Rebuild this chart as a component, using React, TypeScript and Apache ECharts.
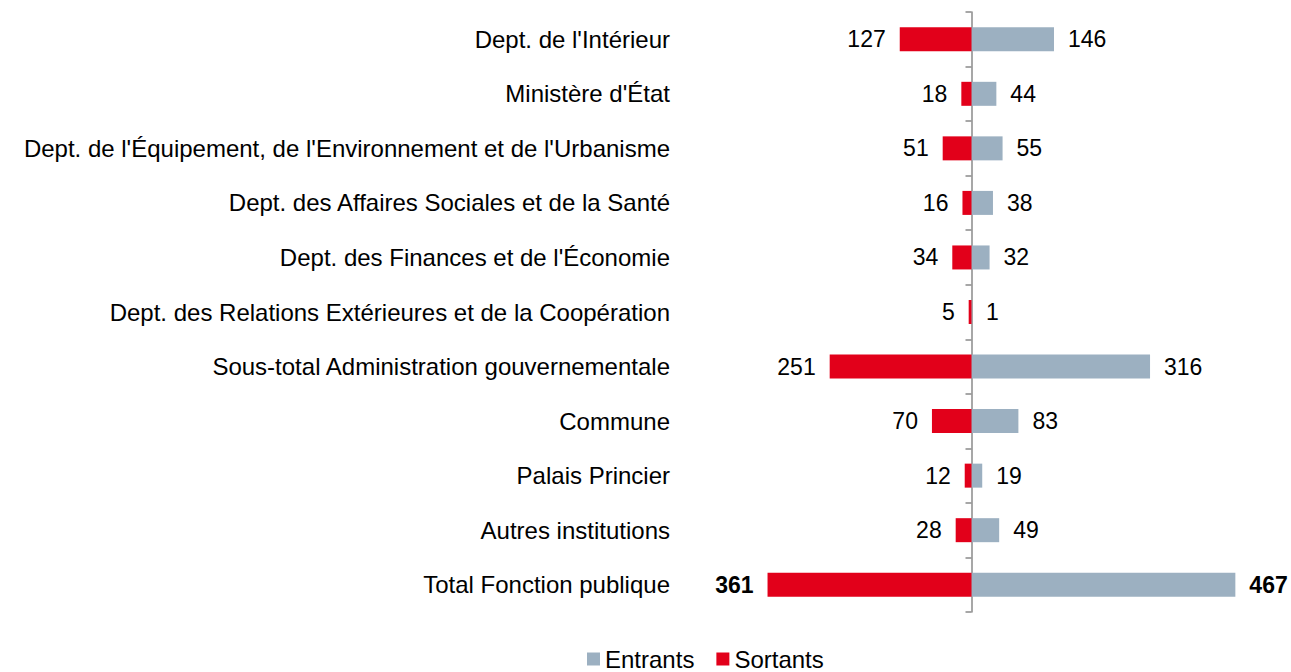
import React, { useEffect, useRef } from "react";
import * as echarts from "echarts";

const categories = [
  "Dept. de l'Intérieur",
  "Ministère d'État",
  "Dept. de l'Équipement, de l'Environnement et de l'Urbanisme",
  "Dept. des Affaires Sociales et de la Santé",
  "Dept. des Finances et de l'Économie",
  "Dept. des Relations Extérieures et de la Coopération",
  "Sous-total Administration gouvernementale",
  "Commune",
  "Palais Princier",
  "Autres institutions",
  "Total Fonction publique",
];
const entrants = [146, 44, 55, 38, 32, 1, 316, 83, 19, 49, 467];
const sortants = [127, 18, 51, 16, 34, 5, 251, 70, 12, 28, 361];

const RED = "#E2001A";
const GREY = "#9CB0C1";
const FONT = "Liberation Sans, Arial, sans-serif";

export default function App() {
  const ref = useRef<HTMLDivElement>(null);
  useEffect(() => {
    const chart = echarts.init(ref.current!, null, { renderer: "svg" });
    const last = categories.length - 1;
    chart.setOption({
      animation: false,
      textStyle: { fontFamily: FONT },
      legend: {
        data: ["Entrants", "Sortants"],
        left: 587,
        top: 647,
        padding: 0,
        icon: "rect",
        itemWidth: 13,
        itemHeight: 13,
        itemGap: 22,
        textStyle: { fontSize: 24, color: "#000", fontFamily: FONT },
      },
      grid: {
        left: 689,
        width: 565,
        top: 12,
        height: 600,
        containLabel: false,
        outerBoundsMode: "none",
      },
      xAxis: {
        type: "value",
        min: -500,
        max: 500,
        show: false,
      },
      yAxis: {
        type: "category",
        data: categories,
        inverse: true,
        axisLine: { show: true, onZero: true, lineStyle: { color: "#8a8a8a", width: 1.5 } },
        axisTick: { show: true, length: 6, lineStyle: { color: "#8a8a8a", width: 1.5 } },
        axisLabel: { margin: 19, fontSize: 24, color: "#000", fontFamily: FONT },
      },
      series: [
        {
          name: "Entrants",
          type: "bar",
          stack: "s",
          barWidth: 24,
          itemStyle: { color: GREY },
          data: entrants.map((v, i) =>
            i === last ? { value: v, label: { fontWeight: "bold" } } : v
          ),
          label: {
            show: true,
            position: "right",
            distance: 14,
            fontSize: 23,
            color: "#000",
            fontFamily: FONT,
          },
        },
        {
          name: "Sortants",
          type: "bar",
          stack: "s",
          barWidth: 24,
          itemStyle: { color: RED },
          data: sortants.map((v, i) =>
            i === last ? { value: -v, label: { fontWeight: "bold" } } : -v
          ),
          label: {
            show: true,
            position: "left",
            distance: 14,
            fontSize: 23,
            color: "#000",
            fontFamily: FONT,
            formatter: (p: any) => String(Math.abs(p.value)),
          },
        },
      ],
    });
    return () => chart.dispose();
  }, []);
  return (
    <div
      ref={ref}
      style={{ position: "fixed", left: 0, top: 0, width: 1291, height: 672, background: "#fff" }}
    />
  );
}
